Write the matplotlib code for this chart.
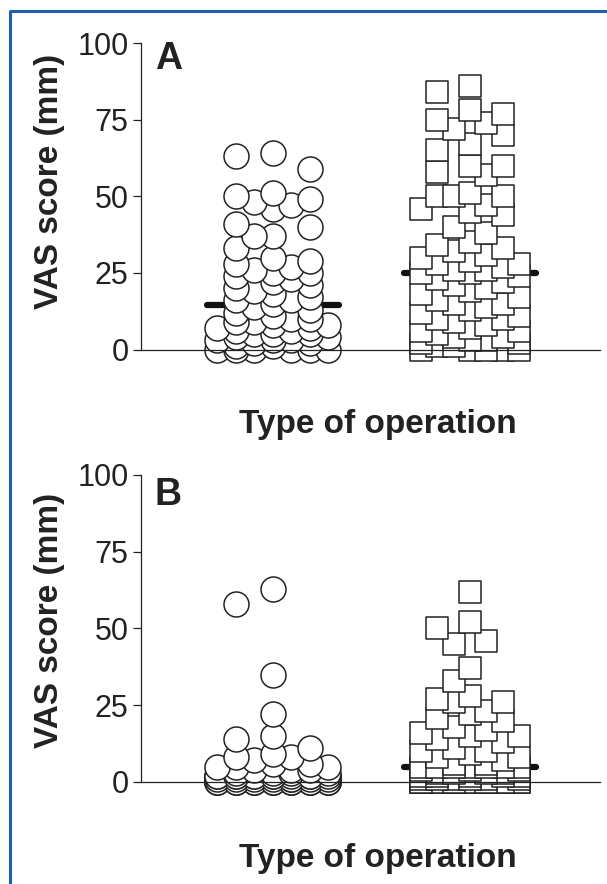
import matplotlib.pyplot as plt
import numpy as np
from matplotlib.lines import Line2D

plt.rcParams['font.family'] = ['Liberation Sans', 'DejaVu Sans']

# VAS scores (mm)
circ_a = [64, 59, 63, 51, 50, 49, 48, 47, 46, 41, 40, 37, 37, 33, 30, 29,
          28, 27, 26, 25, 25, 24, 23, 22, 21, 20, 19, 18, 17, 16, 16, 15,
          14, 13, 12, 11, 10, 10, 9, 9, 8, 8, 7, 7, 6, 6, 5, 5, 5, 4, 4,
          3, 3, 3, 2, 2, 1, 1, 0, 0, 0, 0, 0, 0]
sq_a = [86, 84, 78, 77, 75, 74, 72, 70, 67, 65, 60, 60, 58, 57, 51, 50,
        50, 50, 47, 46, 45, 44, 40, 38, 35, 34, 33, 32, 31, 30, 29, 28,
        28, 27, 26, 26, 25, 25, 24, 23, 22, 21, 20, 19, 18, 17, 16, 15,
        15, 14, 13, 12, 11, 10, 10, 9, 8, 7, 6, 6, 5, 4, 4, 3, 3, 2, 2,
        1, 1, 0, 0, 0, 0, 0]
circ_b = [63, 58, 35, 22, 15, 14, 11, 9, 8, 8, 7, 6, 6, 5, 5, 5, 4, 4, 4,
          3, 3, 3, 3] + [2] * 12 + [1] * 8 + [0] * 21
sq_b = [62, 52, 50, 46, 45, 37, 33, 28, 27, 26, 26, 23, 22, 21, 20, 18,
        17, 16, 15, 15, 14, 13, 11, 10, 10, 9, 8, 8, 7, 6, 6] + \
       [5] * 7 + [4] * 3 + [3] * 4 + [2] * 5 + [1] * 6 + [0] * 18

panels = [("A", circ_a, sq_a), ("B", circ_b, sq_b)]

XPX = 197.0   # pixels per x unit
YPX = 3.06    # pixels per mm


def swarm(vals, size_px, step_px, odd_pen, outer_pen):
    # greedy placement on half-lanes, least overlap wins, centre preferred
    vals = np.asarray(vals, float)
    placed = []
    off = np.zeros(len(vals))
    for i in np.argsort(-vals, kind='stable'):
        y = vals[i] * YPX
        best, best_k = None, 0
        for k in [0, -2, 2, -1, 1, -3, 3]:
            x = k * step_px
            cost = 0.02 * abs(k) + odd_pen * (k % 2) + outer_pen * (abs(k) == 3)
            for px, py in placed:
                d = np.hypot(x - px, y - py)
                if d < size_px:
                    cost += (size_px - d) ** 2 / size_px ** 2
            if best is None or cost < best - 1e-9:
                best, best_k = cost, k
        placed.append((best_k * step_px, y))
        off[i] = best_k * step_px / XPX
    return off


fig = plt.figure(figsize=(6.07, 8.84), dpi=100)
boxes = [[0.2323, 0.6046, 0.756, 0.3467], [0.2323, 0.1154, 0.756, 0.3473]]
label_y = [0.7947, 0.2986]
title_y = [0.5102, 0.0192]

for i, (letter, circ, sq) in enumerate(panels):
    ax = fig.add_axes(boxes[i])
    groups = [(1, circ, 'o', 324, 25, 18.5, 0.15, 0.4),
              (2, sq, 's', 243, 22, 16.3, 0.0, 0.05)]
    for pos, vals, mk, ms, size_px, step_px, odd_pen, outer_pen in groups:
        v = np.asarray(vals, float)
        x = pos + swarm(v, size_px, step_px, odd_pen, outer_pen)
        med = np.median(v)
        ax.plot([pos - 0.335, pos + 0.335], [med, med], color='#111111', lw=4.5,
                solid_capstyle='round', zorder=1, clip_on=False)
        order = np.argsort(v, kind='stable')
        ax.scatter(x[order], v[order], s=ms, marker=mk, facecolor='white',
                   edgecolor='#222222', linewidth=1.1, zorder=2, clip_on=False)
    ax.set_xlim(0.33, 2.66)
    ax.set_ylim(0, 100)
    ax.set_yticks([0, 25, 50, 75, 100])
    ax.set_xticks([])
    ax.spines['top'].set_visible(False)
    ax.spines['right'].set_visible(False)
    for sp in ['left', 'bottom']:
        ax.spines[sp].set_linewidth(0.9)
        ax.spines[sp].set_color('#222222')
        ax.spines[sp].set_zorder(3)
    ax.tick_params(axis='y', labelsize=22, length=6, width=0.9, pad=3,
                   color='#222222', labelcolor='#222222')
    ax.text(0.03, 0.915 if i == 0 else 0.902, letter, transform=ax.transAxes,
            fontsize=27, fontweight='bold', va='baseline', ha='left', color='#222222')
    fig.text(0.081, label_y[i], 'VAS score (mm)', rotation=90, fontsize=24,
             fontweight='bold', ha='center', va='center', color='#222222')
    fig.text(0.622, title_y[i], 'Type of operation', fontsize=24,
             fontweight='bold', ha='center', va='baseline', color='#222222')

# blue frame (top and left edges)
bx = 9.5 / 607
by = 1 - 10.8 / 884
fig.add_artist(Line2D([bx, bx, 1], [0, by, by], transform=fig.transFigure,
                      color='#1f5fa8', lw=2.2))

fig.savefig('out.png', dpi=100)
